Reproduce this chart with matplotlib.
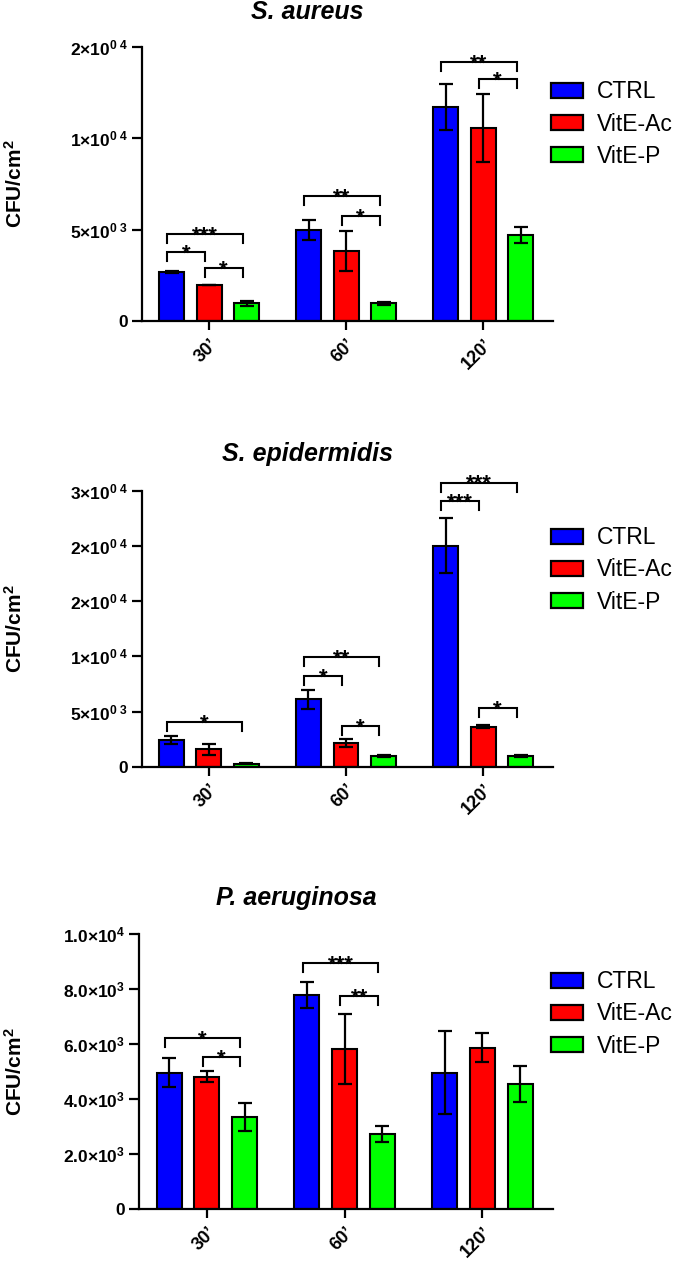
import matplotlib
matplotlib.use("Agg")
import matplotlib.pyplot as plt
from matplotlib.patches import Patch
import numpy as np

plt.rcParams["font.family"] = ["Liberation Sans", "DejaVu Sans"]
plt.rcParams["mathtext.fontset"] = "custom"
plt.rcParams["mathtext.rm"] = "Liberation Sans"
plt.rcParams["mathtext.bf"] = "Liberation Sans:bold"
plt.rcParams["mathtext.it"] = "Liberation Sans:italic"

# Categories and series
times = ["30’", "60’", "120’"]
series = ["CTRL", "VitE-Ac", "VitE-P"]
colors = ["#0000ff", "#ff0000", "#00ff00"]

# S. aureus (CFU/cm2), rows = CTRL, VitE-Ac, VitE-P
aureus_mean = [[2700, 4980, 11730], [1970, 3850, 10550], [970, 970, 4710]]
aureus_err = [[50, 560, 1260], [20, 1100, 1860], [150, 80, 430]]
aureus_ticks = [0, 5000, 10000, 15000]
aureus_ticklabels = ["0", r"$\mathbf{5{\times}10^{0\ 3}}$",
                     r"$\mathbf{1{\times}10^{0\ 4}}$", r"$\mathbf{2{\times}10^{0\ 4}}$"]
# (time, bar a, bar b, height, label)
aureus_sig = [(0, 0, 2, 4760, "***"), (0, 0, 1, 3780, "*"), (0, 1, 2, 2900, "*"),
              (1, 0, 2, 6840, "**"), (1, 1, 2, 5750, "*"),
              (2, 0, 2, 14180, "**"), (2, 1, 2, 13250, "*")]

# S. epidermidis
epi_mean = [[2420, 6110, 20050], [1580, 2120, 3630], [250, 1000, 1000]]
epi_err = [[350, 850, 2500], [480, 350, 150], [50, 100, 100]]
epi_ticks = [0, 5000, 10000, 15000, 20000, 25000]
epi_ticklabels = ["0", r"$\mathbf{5{\times}10^{0\ 3}}$", r"$\mathbf{1{\times}10^{0\ 4}}$",
                  r"$\mathbf{2{\times}10^{0\ 4}}$", r"$\mathbf{2{\times}10^{0\ 4}}$",
                  r"$\mathbf{3{\times}10^{0\ 4}}$"]
epi_sig = [(0, 0, 2, 4080, "*"),
           (1, 0, 2, 9930, "**"), (1, 0, 1, 8260, "*"), (1, 1, 2, 3720, "*"),
           (2, 0, 2, 25770, "***"), (2, 0, 1, 24050, "***"), (2, 1, 2, 5350, "*")]

# P. aeruginosa
aer_mean = [[4970, 7790, 4970], [4820, 5820, 5880], [3370, 2730, 4550]]
aer_err = [[520, 470, 1500], [200, 1270, 520], [510, 290, 660]]
aer_ticks = [0, 2000, 4000, 6000, 8000, 10000]
aer_ticklabels = ["0", r"$\mathbf{2.0{\times}10^3}$", r"$\mathbf{4.0{\times}10^3}$",
                  r"$\mathbf{6.0{\times}10^3}$", r"$\mathbf{8.0{\times}10^3}$",
                  r"$\mathbf{1.0{\times}10^4}$"]
aer_sig = [(0, 0, 2, 6220, "*"), (0, 1, 2, 5550, "*"),
           (1, 0, 2, 8950, "***"), (1, 1, 2, 7760, "**")]

W, H = 677, 1261
fig = plt.figure(figsize=(W / 100, H / 100), dpi=100)

panels = [
    ("S. aureus", aureus_mean, aureus_err, aureus_ticks, aureus_ticklabels, aureus_sig,
     (142, 553, 47, 321), 307, 19, 124),
    ("S. epidermidis", epi_mean, epi_err, epi_ticks, epi_ticklabels, epi_sig,
     (141.7, 553, 491, 766.7), 308, 461.5, 570),
    ("P. aeruginosa", aer_mean, aer_err, aer_ticks, aer_ticklabels, aer_sig,
     (139.3, 552.7, 934.3, 1209.3), 296, 904.5, 1014),
]

x = np.arange(len(times))
pitch = 0.274
width = 0.182

for title, means, errs, ticks, ticklabels, sigs, box, tx, ty, leg_y in panels:
    x0, x1, ytop, ybot = box
    ax = fig.add_axes([x0 / W, 1 - ybot / H, (x1 - x0) / W, (ybot - ytop) / H])
    for i in range(len(series)):
        ax.bar(x + (i - 1) * pitch, means[i], width, color=colors[i],
               edgecolor="black", linewidth=1.5, yerr=errs[i], capsize=5,
               error_kw=dict(elinewidth=1.6, capthick=1.6, ecolor="black"))
    ax.set_xlim(-0.49, 2.51)
    ax.set_ylim(0, ticks[-1])
    ax.set_yticks(ticks)
    ax.set_yticklabels(ticklabels, fontsize=12.5, fontweight="bold")
    ax.set_xticks(x)
    ax.set_xticklabels(times, rotation=45, ha="right", rotation_mode="anchor",
                       fontsize=13, fontweight="bold")
    for s in ["top", "right"]:
        ax.spines[s].set_visible(False)
    for s in ["left", "bottom"]:
        ax.spines[s].set_linewidth(1.6)
    ax.tick_params(axis="y", length=7, width=1.6, pad=3)
    ax.tick_params(axis="x", length=6.5, width=1.6, pad=4)

    ax.set_ylabel(r"CFU/cm$^\mathbf{2}$", fontsize=15, fontweight="bold", va="center")
    ax.yaxis.set_label_coords((15 - x0) / (x1 - x0), 0.5)

    fig.text(tx / W, 1 - ty / H, title, fontsize=18, fontweight="bold",
             fontstyle="italic", ha="center", va="baseline")

    # significance brackets
    leg = ticks[-1] * 9 / (ybot - ytop)
    for g, a, b, yb, lab in sigs:
        xa = g + (a - 1) * pitch - 0.03
        xb = g + (b - 1) * pitch - 0.03
        ax.plot([xa, xa, xb, xb], [yb - leg, yb, yb, yb - leg], color="black",
                linewidth=1.5, clip_on=False, solid_joinstyle="miter")
        ax.annotate(lab, xy=((xa + xb) / 2, yb), xytext=(0, -5.5),
                    textcoords="offset points", ha="center", va="baseline",
                    fontsize=16, fontweight="bold", annotation_clip=False)

    handles = [Patch(facecolor=c, edgecolor="black", linewidth=1.6) for c in colors]
    ax.legend(handles, series, loc="center left",
              bbox_to_anchor=(550.7 / W, 1 - leg_y / H),
              bbox_transform=fig.transFigure, frameon=False, fontsize=16.5,
              handlelength=1.4, handleheight=0.62, handletextpad=0.6,
              labelspacing=0.4, borderpad=0, borderaxespad=0)

fig.savefig("out.png", dpi=100)
